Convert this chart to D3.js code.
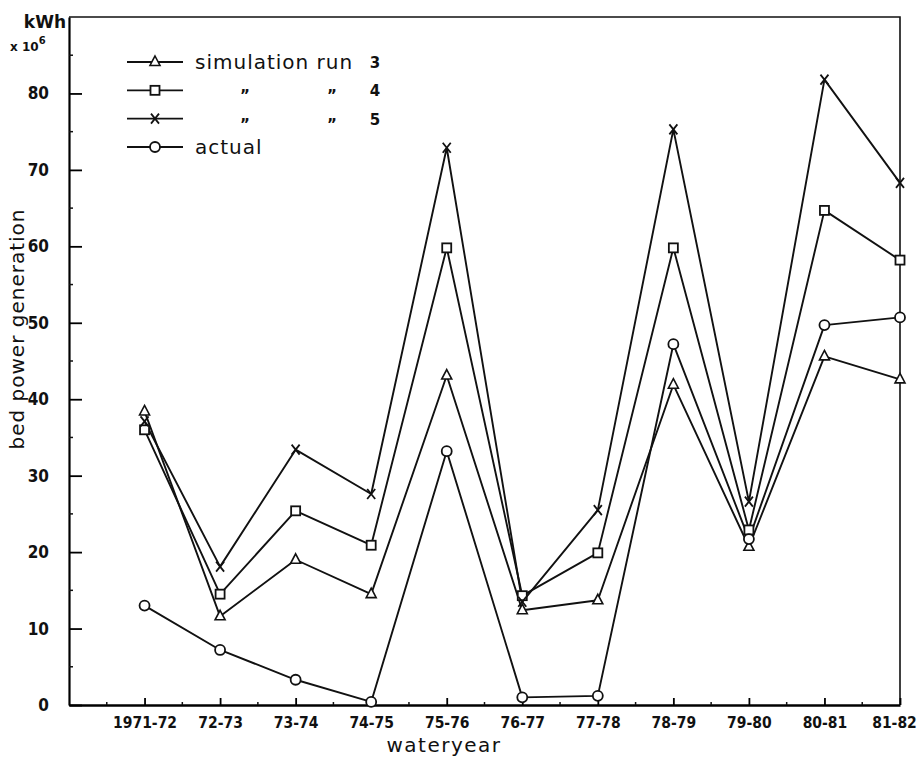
<!DOCTYPE html>
<html>
<head>
<meta charset="utf-8">
<script src="https://cdn.jsdelivr.net/npm/d3@7"></script>
<style>
  body { margin: 0; background: #fff; }
  text { fill: #111; }
</style>
</head>
<body>
<script>
// water years on the x axis
const years = ['1971-72', '72-73', '73-74', '74-75', '75-76', '76-77', '77-78', '78-79', '79-80', '80-81', '81-82']

// bed power generation, kWh x 10^6
const run3 = [38.4, 11.6, 19.0, 14.5, 43.1, 12.4, 13.7, 41.9, 20.7, 45.6, 42.6]
const run4 = [36.0, 14.5, 25.4, 20.9, 59.8, 14.3, 19.9, 59.8, 22.9, 64.7, 58.2]
const run5 = [37.1, 18.1, 33.4, 27.6, 72.9, 13.5, 25.5, 75.3, 26.6, 81.8, 68.3]
const actual = [13.0, 7.2, 3.3, 0.4, 33.2, 1.0, 1.2, 47.2, 21.7, 49.7, 50.7]

const yTicks = [0, 10, 20, 30, 40, 50, 60, 70, 80]
const yMinor = [5, 15, 25, 35, 45, 55, 65, 75, 85]

const series = [
  { name: 'simulation run', num: '3', values: run3, marker: 'triangle' },
  { name: 'ditto', num: '4', values: run4, marker: 'square' },
  { name: 'ditto', num: '5', values: run5, marker: 'cross' },
  { name: 'actual', num: '', values: actual, marker: 'circle' }
]

const frame = { width: 922, height: 758, left: 69, right: 900, top: 17, bottom: 705 }

const svg = d3.select('body').append('svg')
  .attr('width', frame.width)
  .attr('height', frame.height)
  .style('font-family', '"DejaVu Sans", sans-serif')

// index -1 is the empty slot left of 1971-72
const x = d3.scaleLinear().domain([-1, years.length - 1]).range([frame.left, frame.right])
const y = d3.scaleLinear().domain([0, 90]).range([frame.bottom, frame.top])

// box: top and right edges
svg.append('path')
  .attr('d', `M${frame.left},${frame.top}H${frame.right}V${frame.bottom}`)
  .attr('fill', 'none').attr('stroke', '#111').attr('stroke-width', 1.6)

// bottom axis, ticks point inwards
const xAxis = d3.axisBottom(x)
  .tickValues(d3.range(years.length))
  .tickFormat(i => years[i])
  .tickSizeInner(-7).tickSizeOuter(0).tickPadding(12)
const gx = svg.append('g').attr('transform', `translate(0,${frame.bottom})`).call(xAxis)
gx.select('.domain').attr('stroke-width', 2.4)
gx.selectAll('.tick line').attr('stroke-width', 1.8)
gx.selectAll('.tick text')
  .style('font-family', '"DejaVu Sans Condensed", "DejaVu Sans", sans-serif')
  .style('font-weight', 'bold').style('font-size', '15.5px')
  .attr('dx', (d, i) => i === years.length - 1 ? -6 : 0) // last label sits against the edge

// half-year minor ticks
svg.append('g').selectAll('line')
  .data(d3.range(-0.5, years.length - 1, 1))
  .join('line')
  .attr('x1', d => x(d)).attr('x2', d => x(d))
  .attr('y1', frame.bottom).attr('y2', frame.bottom - 3)
  .attr('stroke', '#111').attr('stroke-width', 1.5)

// left axis
const yAxis = d3.axisLeft(y)
  .tickValues(yTicks)
  .tickSizeInner(-13).tickSizeOuter(0).tickPadding(20)
const gy = svg.append('g').attr('transform', `translate(${frame.left},0)`).call(yAxis)
gy.select('.domain').attr('stroke-width', 2.2)
gy.selectAll('.tick line').attr('stroke-width', 1.8)
gy.selectAll('.tick text')
  .style('font-family', '"DejaVu Sans Condensed", "DejaVu Sans", sans-serif')
  .style('font-weight', 'bold').style('font-size', '17px')

svg.append('g').selectAll('line')
  .data(yMinor)
  .join('line')
  .attr('x1', frame.left).attr('x2', frame.left + 4)
  .attr('y1', d => y(d)).attr('y2', d => y(d))
  .attr('stroke', '#111').attr('stroke-width', 1.5)

// unit label
svg.append('text').attr('x', 66).attr('y', 28).attr('text-anchor', 'end')
  .style('font-size', '17px').style('font-weight', 'bold').text('kWh')
const unit = svg.append('text').attr('x', 10).attr('y', 51)
  .style('font-size', '12px').style('font-weight', 'bold')
unit.append('tspan').text('x 10')
unit.append('tspan').attr('dy', -7).style('font-size', '10px').text('6')

// axis titles
svg.append('text')
  .attr('transform', `translate(24,329) rotate(-90)`)
  .attr('text-anchor', 'middle')
  .style('font-size', '20px').style('letter-spacing', '1px')
  .text('bed power generation')
svg.append('text')
  .attr('x', 444).attr('y', 752)
  .attr('text-anchor', 'middle')
  .style('font-size', '20px').style('letter-spacing', '1.5px')
  .text('wateryear')

// marker shapes
function drawMarker(g, kind, cx, cy) {
  const s = '#111'
  if (kind === 'circle') {
    g.append('circle').attr('cx', cx).attr('cy', cy).attr('r', 5)
      .attr('fill', '#fff').attr('stroke', s).attr('stroke-width', 1.8)
  } else if (kind === 'square') {
    g.append('rect').attr('x', cx - 4.5).attr('y', cy - 4.5).attr('width', 9).attr('height', 9)
      .attr('fill', '#fff').attr('stroke', s).attr('stroke-width', 1.8)
  } else if (kind === 'triangle') {
    g.append('path').attr('d', `M${cx},${cy - 6}L${cx + 5},${cy + 3.5}L${cx - 5},${cy + 3.5}Z`)
      .attr('fill', '#fff').attr('stroke', s).attr('stroke-width', 1.6)
  } else {
    g.append('path').attr('d', `M${cx - 4},${cy - 5}L${cx + 4},${cy + 5}M${cx + 4},${cy - 5}L${cx - 4},${cy + 5}`)
      .attr('fill', 'none').attr('stroke', s).attr('stroke-width', 1.8)
  }
}

const line = d3.line().x((d, i) => x(i)).y(d => y(d))

series.forEach(sr => {
  svg.append('path')
    .datum(sr.values)
    .attr('d', line)
    .attr('fill', 'none').attr('stroke', '#111').attr('stroke-width', 1.9)
    .attr('stroke-linejoin', 'round')
})
series.forEach(sr => {
  const g = svg.append('g')
  sr.values.forEach((v, i) => drawMarker(g, sr.marker, x(i), y(v)))
})

// legend
const legY = d3.scaleLinear().domain([0, 3]).range([62, 147])
series.forEach((sr, i) => {
  const ly = legY(i)
  const g = svg.append('g')
  g.append('line').attr('x1', 127).attr('x2', 183).attr('y1', ly).attr('y2', ly)
    .attr('stroke', '#111').attr('stroke-width', 1.8)
  drawMarker(g, sr.marker, 155, ly)
  if (sr.name === 'ditto') {
    g.append('text').attr('x', 245).attr('y', ly + 11).attr('text-anchor', 'middle')
      .style('font-size', '15px').style('font-weight', 'bold').text('\u201D')
    g.append('text').attr('x', 332).attr('y', ly + 11).attr('text-anchor', 'middle')
      .style('font-size', '15px').style('font-weight', 'bold').text('\u201D')
    g.append('text').attr('x', 375).attr('y', ly + 6).attr('text-anchor', 'middle')
      .style('font-size', '15px').style('font-weight', 'bold').text(sr.num)
  } else {
    g.append('text').attr('x', 195).attr('y', ly + 7)
      .style('font-size', '20px').style('letter-spacing', '1px').text(sr.name)
    if (sr.num) {
      g.append('text').attr('x', 375).attr('y', ly + 6).attr('text-anchor', 'middle')
        .style('font-size', '15px').style('font-weight', 'bold').text(sr.num)
    }
  }
})
</script>
</body>
</html>
